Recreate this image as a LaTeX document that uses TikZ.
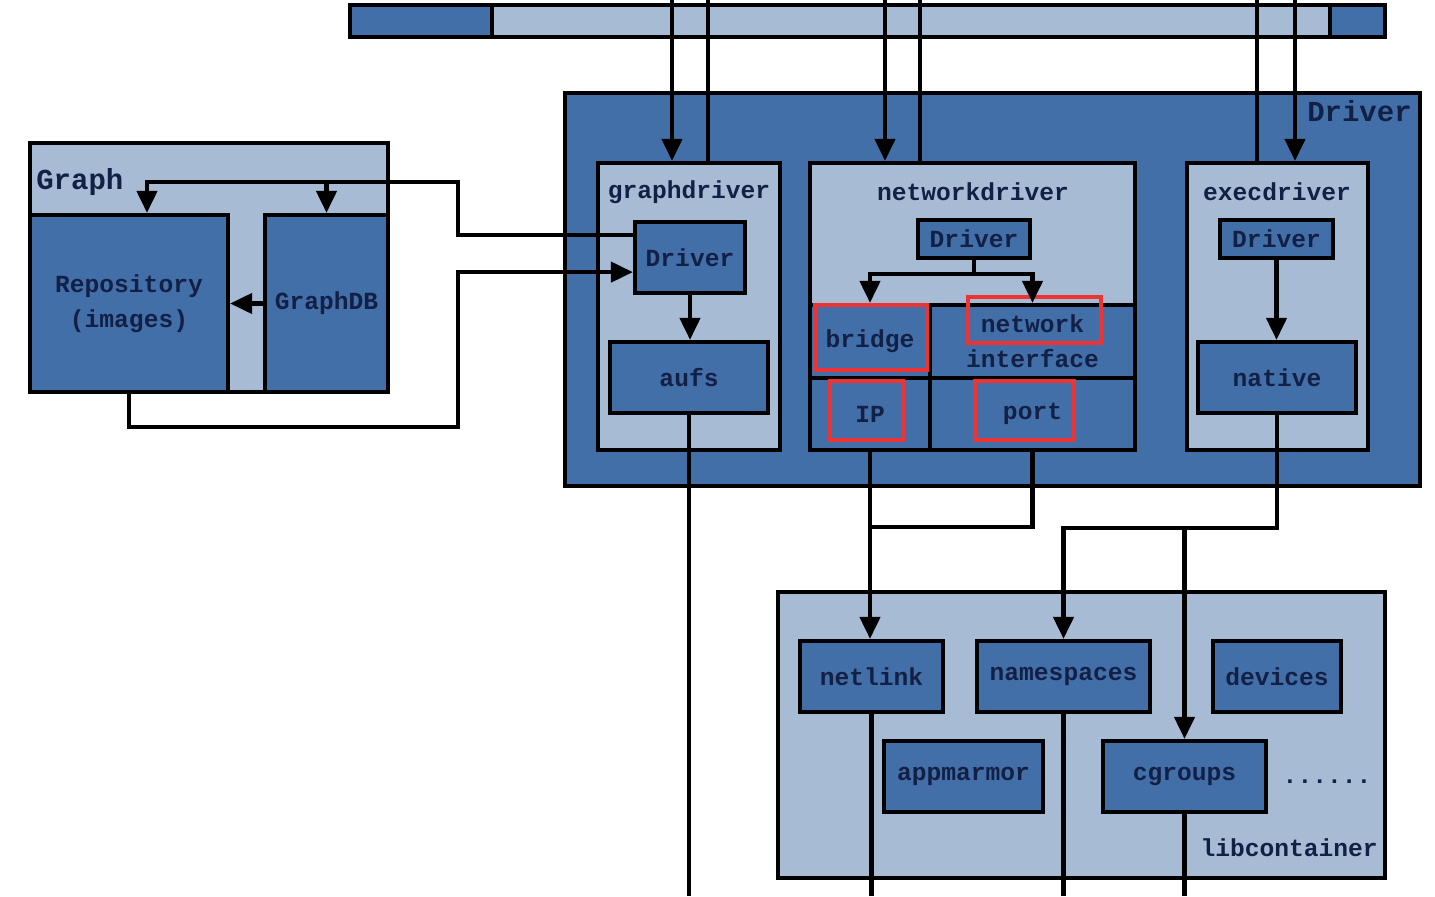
\documentclass[tikz,border=0pt]{standalone}
\usepackage{fontspec}
\setmonofont{Liberation Mono}
\usetikzlibrary{arrows.meta,positioning}

\definecolor{darkpanel}{RGB}{67,111,168}
\definecolor{lightpanel}{RGB}{168,187,213}
\definecolor{inktext}{RGB}{18,32,70}
\definecolor{markred}{RGB}{236,52,52}

\tikzset{
  wire/.style={line width=2.4pt},
  arr/.style={wire,-{Triangle[length=0.44cm,width=0.4cm]}},
  darkbox/.style={draw,line width=2.4pt,fill=darkpanel,inner sep=0pt,
    text=inktext,align=center,font=\ttfamily\bfseries\fontsize{14}{20}\selectfont},
  lightbox/.style={draw,line width=2.4pt,fill=lightpanel,inner sep=0pt},
  boxtitle/.style={text=inktext,inner sep=0pt,font=\ttfamily\bfseries\fontsize{14}{20}\selectfont},
  bigtitle/.style={text=inktext,inner sep=0pt,font=\ttfamily\bfseries\fontsize{16.5}{20}\selectfont},
  redmark/.style={draw=markred,line width=2.6pt},
}

\begin{document}
\begin{tikzpicture}[x=0.02cm,y=-0.02cm]
  \useasboundingbox (0,0) rectangle (1435,896);

  % top bar
  \node[darkbox,minimum width=20.7cm,minimum height=0.64cm] (topbar) at (867.5,21) {};
  \node[lightbox,minimum width=16.76cm,minimum height=0.64cm] (toplight) at (911,21) {};

  % Driver layer
  \node[darkbox,minimum width=17.1cm,minimum height=7.86cm] (driver) at (992.5,289.5) {};
  \node[bigtitle,anchor=north east] (driverlabel) at (1412,100) {Driver};

  \node[lightbox,minimum width=3.64cm,minimum height=5.74cm] (gdbox) at (689,306.5) {};
  \node[boxtitle] (gdtitle) at (689,192) {graphdriver};
  \node[darkbox,minimum width=2.2cm,minimum height=1.42cm] (gdrv) at (690,257.5) {Driver};
  \node[darkbox,minimum width=3.16cm,minimum height=1.42cm] (aufs) at (689,377.5) {aufs};

  \node[lightbox,minimum width=6.5cm,minimum height=5.74cm] (ndbox) at (972.5,306.5) {};
  \node[boxtitle] (ndtitle) at (973,192) {networkdriver};
  \node[darkbox,minimum width=2.24cm,minimum height=0.76cm] (ndrv) at (974,239) {Driver};
  \node[darkbox,minimum width=2.4cm,minimum height=1.46cm] (bridge) at (870,341.5) {bridge};
  \node[darkbox,minimum width=4.1cm,minimum height=1.46cm] (netif) at (1032.5,341.5) {network\\interface};
  \node[darkbox,minimum width=2.4cm,minimum height=1.44cm] (ip) at (870,414) {IP};
  \node[darkbox,minimum width=4.1cm,minimum height=1.44cm] (port) at (1032.5,414) {port};

  \node[lightbox,minimum width=3.62cm,minimum height=5.74cm] (edbox) at (1277.5,306.5) {};
  \node[boxtitle] (edtitle) at (1277,192) {execdriver};
  \node[darkbox,minimum width=2.26cm,minimum height=0.76cm] (edrv) at (1276.5,239) {Driver};
  \node[darkbox,minimum width=3.16cm,minimum height=1.42cm] (native) at (1277,377.5) {native};

  % highlights
  \draw[redmark] (815,305) rectangle (927,370);
  \draw[redmark] (968,297) rectangle (1101,343);
  \draw[redmark] (830,381) rectangle (903,440);
  \draw[redmark] (975,381) rectangle (1074,440);

  % Graph
  \node[lightbox,minimum width=7.16cm,minimum height=4.98cm] (graph) at (209,267.5) {};
  \node[bigtitle,anchor=west] (graphlabel) at (36,182) {Graph};
  \node[darkbox,minimum width=3.96cm,minimum height=3.54cm] (repo) at (129,303.5) {Repository\\(images)};
  \node[darkbox,minimum width=2.46cm,minimum height=3.54cm] (graphdb) at (326.5,303.5) {GraphDB};

  % libcontainer
  \node[lightbox,minimum width=12.14cm,minimum height=5.72cm] (libc) at (1081.5,735) {};
  \node[boxtitle,anchor=east] (libclabel) at (1378,848) {libcontainer};
  \node[darkbox,minimum width=2.86cm,minimum height=1.42cm] (netlink) at (871.5,676.5) {netlink};
  \node[darkbox,minimum width=3.46cm,minimum height=1.42cm] (namespaces) at (1063.5,676.5) {namespaces};
  \node[darkbox,minimum width=2.56cm,minimum height=1.42cm] (devices) at (1277,676.5) {devices};
  \node[darkbox,minimum width=3.18cm,minimum height=1.42cm] (appmarmor) at (963.5,776.5) {appmarmor};
  \node[darkbox,minimum width=3.26cm,minimum height=1.42cm] (cgroups) at (1184.5,776.5) {cgroups};
  \node[boxtitle] (moredots) at (1327,782) {......};

  % rails and free ends
  \coordinate (gdin) at (672,0);
  \coordinate (gdout) at (708,0);
  \coordinate (ndin) at (885,0);
  \coordinate (ndout) at (920,0);
  \coordinate (edout) at (1257,0);
  \coordinate (edin) at (1295,0);
  \coordinate (railtop) at (458,182);
  \coordinate (railbot) at (458,427);
  \coordinate (netjoin) at (870,527);
  \coordinate (execrail) at (0,528);
  \coordinate (floor) at (0,896);

  % from above
  \draw[arr] (gdin) -- (gdin |- gdbox.north);
  \draw[wire] (gdout) -- (gdout |- gdbox.north);
  \draw[arr] (ndin) -- (ndin |- ndbox.north);
  \draw[wire] (ndout) -- (ndout |- ndbox.north);
  \draw[wire] (edout) -- (edout |- edbox.north);
  \draw[arr] (edin) -- (edin |- edbox.north);

  % inside drivers
  \draw[arr] (gdrv.south) -- (gdrv.south |- aufs.north);
  \draw[wire] (ndrv.south) -- ++(0,14) coordinate (nsplit);
  \draw[arr] (nsplit) -| (bridge.north);
  \draw[arr] (nsplit) -| (netif.north);
  \draw[arr] (edrv.south) -- (edrv.south |- native.north);

  % graph <-> graphdriver
  \draw[arr] ([yshift=-0.3cm]gdrv.north west) -| (railtop) -| ([xshift=0.36cm]repo.north);
  \draw[arr] (graphdb.north |- railtop) -- (graphdb.north);
  \draw[arr] (graphdb.west) -- (repo.east);
  \draw[arr] (repo.south) |- (railbot) |- ([yshift=0.46cm]gdrv.south west);

  % down to libcontainer
  \draw[arr] (ip.south) -- (ip.south |- netlink.north);
  \draw[wire] (port.south) |- (netjoin);
  \draw[arr] (native.south) -- (native.south |- execrail) -| (namespaces.north);
  \draw[arr] (cgroups.north |- execrail) -- (cgroups.north);

  % out at the bottom
  \draw[wire] (aufs.south) -- (aufs.south |- floor);
  \draw[wire] (netlink.south) -- (netlink.south |- floor);
  \draw[wire] (namespaces.south) -- (namespaces.south |- floor);
  \draw[wire] (cgroups.south) -- (cgroups.south |- floor);
\end{tikzpicture}
\end{document}
